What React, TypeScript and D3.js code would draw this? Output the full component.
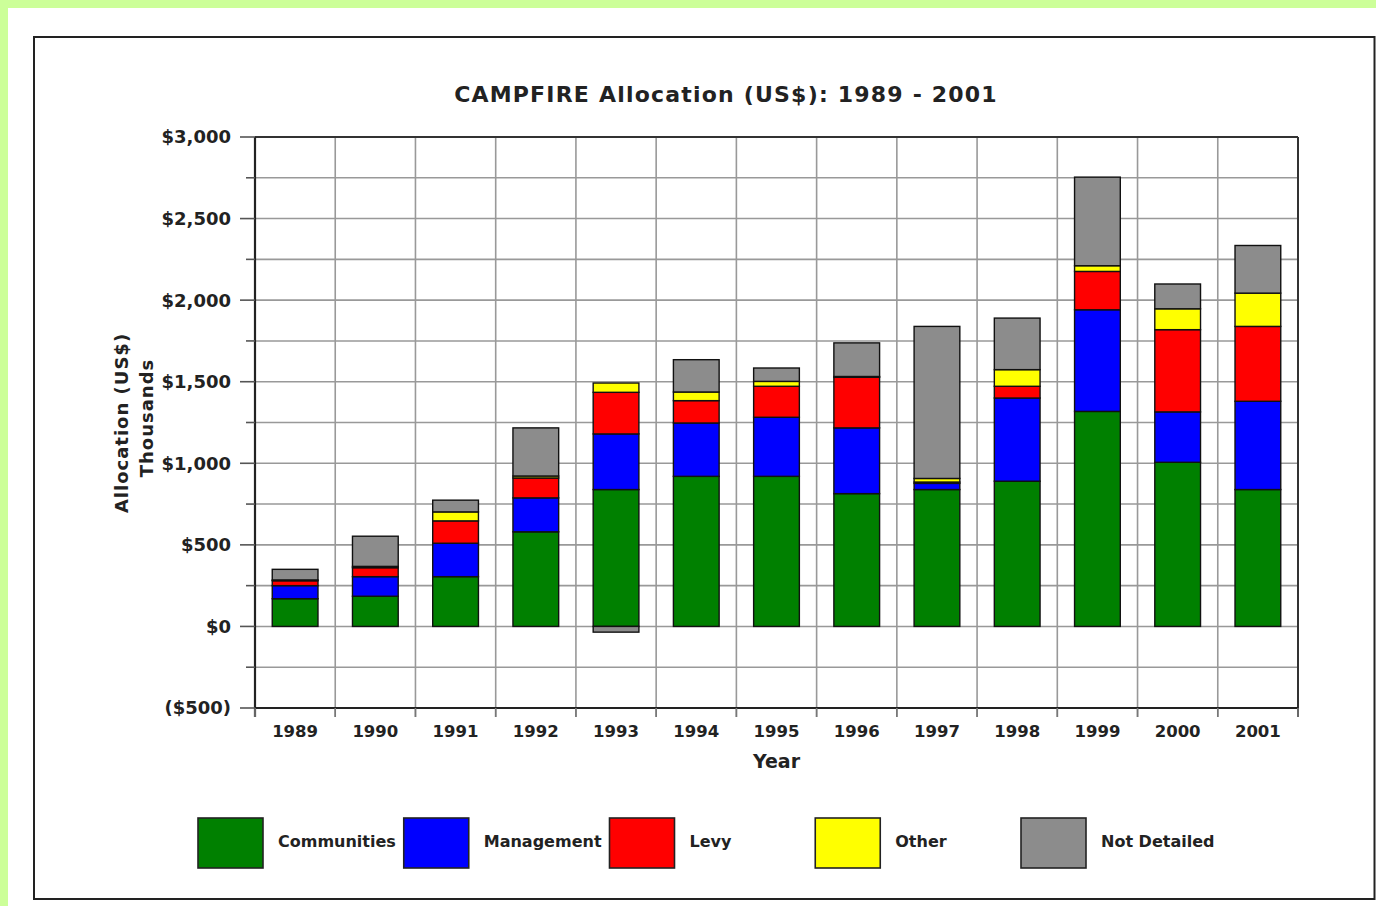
import React from "react";
import * as d3 from "d3";

const years = ["1989","1990","1991","1992","1993","1994","1995","1996","1997","1998","1999","2000","2001"];
const communities = [170,185,305,580,839,920,920,814,839,890,1318,1006,839];
const management = [80,120,205,208,341,327,362,403,38,510,623,309,541];
const levy = [30,55,137,122,255,137,190,310,8,72,235,504,459];
const other = [5,8,55,12,57,53,30,5,22,102,35,128,204];
const notDetailed = [65,185,72,295,-35,198,82,206,932,316,543,152,292];

const seriesNames = ["Communities","Management","Levy","Other","Not Detailed"];
const seriesColors = ["#008000","#0000ff","#ff0000","#ffff00","#8c8c8c"];
const yTicksMajor = [-500,0,500,1000,1500,2000,2500,3000];
const yTicksAll = d3.range(-500, 3001, 250);

const W = 1376, H = 906;
const plot = { left: 255, right: 1298, top: 137, bottom: 708 };
const FONT = "'DejaVu Sans', sans-serif";

export default function App() {
  const rows = years.map((y, i) => ({
    year: y,
    Communities: communities[i],
    Management: management[i],
    Levy: levy[i],
    Other: other[i],
    "Not Detailed": notDetailed[i],
  }));
  const stack = d3.stack<any>().keys(seriesNames).offset(d3.stackOffsetDiverging);
  const layers = stack(rows);

  const x = d3.scaleBand<string>().domain(years).range([plot.left, plot.right]).paddingInner(0.43).paddingOuter(0.215);
  const y = d3.scaleLinear().domain([-500, 3000]).range([plot.bottom, plot.top]);
  const step = x.step();
  const fmt = (v: number) => {
    const s = "$" + d3.format(",")(Math.abs(v));
    return v < 0 ? `(${s})` : s;
  };
  const boundaries = d3.range(0, years.length + 1).map((i) => plot.left + i * step);

  return (
    <svg width={W} height={H} style={{ position: "absolute", left: 0, top: 0 }} fontFamily={FONT}>
      <rect x={0} y={0} width={W} height={H} fill="#ccff99" />
      <rect x={8} y={8} width={W - 8} height={H - 8} fill="#ffffff" />
      <rect x={34} y={37} width={W - 34 - 1.5} height={862} fill="#fff" stroke="#222" strokeWidth={2} />

      {/* title */}
      <text x={726} y={102} textAnchor="middle" fontSize={22} fontWeight="bold" fill="#222" letterSpacing={1.2}>
        CAMPFIRE Allocation (US$): 1989 - 2001
      </text>

      {/* gridlines */}
      {yTicksAll.map((v) => (
        <line key={"h" + v} x1={plot.left} x2={plot.right} y1={y(v)} y2={y(v)} stroke="#999" strokeWidth={1.6} />
      ))}
      {boundaries.slice(1, -1).map((bx, i) => (
        <line key={"v" + i} x1={bx} x2={bx} y1={plot.top} y2={plot.bottom + 9} stroke="#999" strokeWidth={1.6} />
      ))}

      {/* bars */}
      {layers.map((layer, li) =>
        layer.map((d, i) => {
          const y0 = y(d[0]);
          const y1 = y(d[1]);
          const h = Math.abs(y0 - y1);
          if (h < 0.01) return null;
          return (
            <rect
              key={li + "-" + i}
              x={x(years[i])}
              y={Math.min(y0, y1)}
              width={x.bandwidth()}
              height={h}
              fill={seriesColors[li]}
              stroke="#111"
              strokeWidth={1.4}
            />
          );
        })
      )}

      {/* plot frame */}
      <line x1={plot.left} x2={plot.right} y1={plot.top} y2={plot.top} stroke="#333" strokeWidth={2} />
      <line x1={plot.right} x2={plot.right} y1={plot.top} y2={plot.bottom + 9} stroke="#333" strokeWidth={2} />
      <line x1={plot.left} x2={plot.right} y1={plot.bottom} y2={plot.bottom} stroke="#222" strokeWidth={2.2} />
      <line x1={plot.left} x2={plot.left} y1={plot.top} y2={plot.bottom + 9} stroke="#222" strokeWidth={2.2} />
      {boundaries.map((bx, i) => (
        <line key={"xt" + i} x1={bx} x2={bx} y1={plot.bottom} y2={plot.bottom + 9} stroke="#777" strokeWidth={1.6} />
      ))}

      {/* y ticks */}
      {yTicksAll.map((v) => (
        <line
          key={"yt" + v}
          x1={yTicksMajor.includes(v) ? plot.left - 15 : plot.left - 9}
          x2={plot.left}
          y1={y(v)}
          y2={y(v)}
          stroke="#555"
          strokeWidth={1.6}
        />
      ))}
      {yTicksMajor.map((v) => (
        <text key={"yl" + v} x={231} y={y(v)} dy="0.36em" textAnchor="end" fontSize={18} fontWeight="bold" fill="#222">
          {fmt(v)}
        </text>
      ))}

      {/* x labels */}
      {years.map((yr) => (
        <text key={"xl" + yr} x={(x(yr) as number) + x.bandwidth() / 2} y={737} textAnchor="middle" fontSize={16.5} fontWeight="bold" fill="#222">
          {yr}
        </text>
      ))}
      <text x={(plot.left + plot.right) / 2} y={768} textAnchor="middle" fontSize={19} fontWeight="bold" fill="#222">
        Year
      </text>

      {/* y axis title */}
      <text transform="translate(122,423) rotate(-90)" textAnchor="middle" dy="0.36em" fontSize={18} fontWeight="bold" fill="#222" letterSpacing={1}>
        Allocation (US$)
      </text>
      <text transform="translate(147,418) rotate(-90)" textAnchor="middle" dy="0.36em" fontSize={18} fontWeight="bold" fill="#222" letterSpacing={1}>
        Thousands
      </text>

      {/* legend */}
      {seriesNames.map((name, i) => {
        const bx = 198 + i * 205.75;
        return (
          <g key={"lg" + name}>
            <rect x={bx} y={818} width={65} height={50} fill={seriesColors[i]} stroke="#222" strokeWidth={1.6} />
            <text x={bx + 80} y={841} dy="0.36em" fontSize={16} fontWeight="bold" fill="#222">
              {name}
            </text>
          </g>
        );
      })}
    </svg>
  );
}
